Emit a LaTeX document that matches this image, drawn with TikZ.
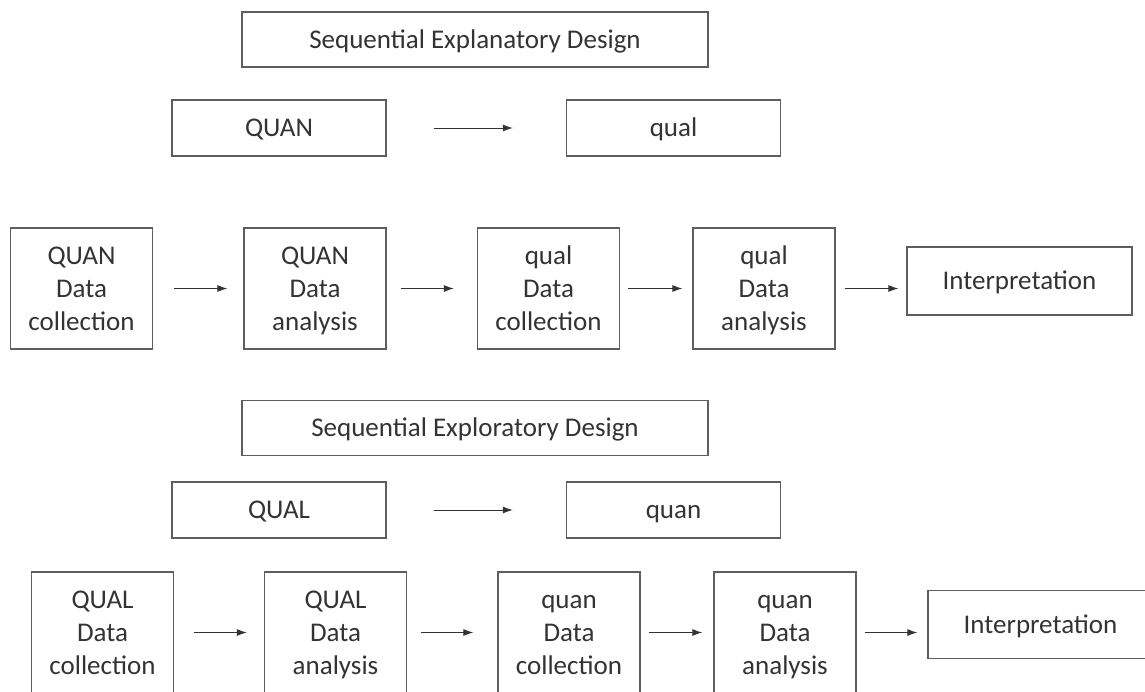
\documentclass[tikz,border=0pt]{standalone}
\usepackage{fontspec}
\setmainfont{Carlito}
\usetikzlibrary{arrows.meta}
\definecolor{boxline}{HTML}{5E5E5E}
\definecolor{txt}{HTML}{333333}
\newcommand\lnstrut{\rule[-7.8pt]{0pt}{33pt}}
\begin{document}
\begin{tikzpicture}[x=1pt,y=-1pt,
  box/.style={draw=boxline,line width=1.3pt,inner sep=0pt,align=center,text=txt,
    font=\fontsize{27}{33}\selectfont},
  titlebox/.style={box,minimum width=466pt,minimum height=55pt},
  midbox/.style={box,minimum width=214pt,minimum height=56pt},
  stepbox/.style={box,minimum width=142pt,minimum height=121pt},
  interpbox/.style={box,minimum width=225pt,minimum height=68pt},
  arr/.style={draw=txt,line width=1pt,-{Latex[length=10pt,width=7pt]}}]
\useasboundingbox (0,0) rectangle (1145,691);
\clip (0,0) rectangle (1145,691);

% ---- Sequential Explanatory Design ----
\node[titlebox] (t1) at (475,39.5) {\lnstrut Sequential Explanatory Design};
\node[midbox] (quan1) at (279,128) {\lnstrut QUAN};
\node[midbox] (qual1) at (673.5,128) {\lnstrut qual};
\draw[arr,shorten <=47pt,shorten >=53pt] (quan1) -- (qual1);

\node[stepbox] (a1) at (81.5,288.5) {\lnstrut QUAN\\\lnstrut Data\\\lnstrut collection};
\node[stepbox] (a2) at (315,288.5) {\lnstrut QUAN\\\lnstrut Data\\\lnstrut analysis};
\node[stepbox] (a3) at (548.5,288.5) {\lnstrut qual\\\lnstrut Data\\\lnstrut collection};
\node[stepbox] (a4) at (764,288.5) {\lnstrut qual\\\lnstrut Data\\\lnstrut analysis};
\node[interpbox] (i1) at (1019.5,281) {\lnstrut Interpretation};
\draw[arr,shorten <=21pt,shorten >=16pt] (a1) -- (a2);
\draw[arr,shorten <=14pt,shorten >=23pt] (a2) -- (a3);
\draw[arr,shorten <=8pt,shorten >=10pt] (a3) -- (a4);
\draw[arr,shorten <=9pt,shorten >=8pt] (a4.east) -- (a4.east -| i1.west);

% ---- Sequential Exploratory Design ----
\node[titlebox] (t2) at (475,428) {\lnstrut Sequential Exploratory Design};
\node[midbox] (qual2) at (279,510) {\lnstrut QUAL};
\node[midbox] (quan2) at (673.5,510) {\lnstrut quan};
\draw[arr,shorten <=47pt,shorten >=53pt] (qual2) -- (quan2);

\node[stepbox] (b1) at (102.5,632.5) {\lnstrut QUAL\\\lnstrut Data\\\lnstrut collection};
\node[stepbox] (b2) at (335.5,632.5) {\lnstrut QUAL\\\lnstrut Data\\\lnstrut analysis};
\node[stepbox] (b3) at (569,632.5) {\lnstrut quan\\\lnstrut Data\\\lnstrut collection};
\node[stepbox] (b4) at (785,632.5) {\lnstrut quan\\\lnstrut Data\\\lnstrut analysis};
\node[interpbox] (i2) at (1040.5,624.5) {\lnstrut Interpretation};
\draw[arr,shorten <=20pt,shorten >=17pt] (b1) -- (b2);
\draw[arr,shorten <=14pt,shorten >=24pt] (b2) -- (b3);
\draw[arr,shorten <=8pt,shorten >=11pt] (b3) -- (b4);
\draw[arr,shorten <=8pt,shorten >=10pt] (b4.east) -- (b4.east -| i2.west);
\end{tikzpicture}
\end{document}
